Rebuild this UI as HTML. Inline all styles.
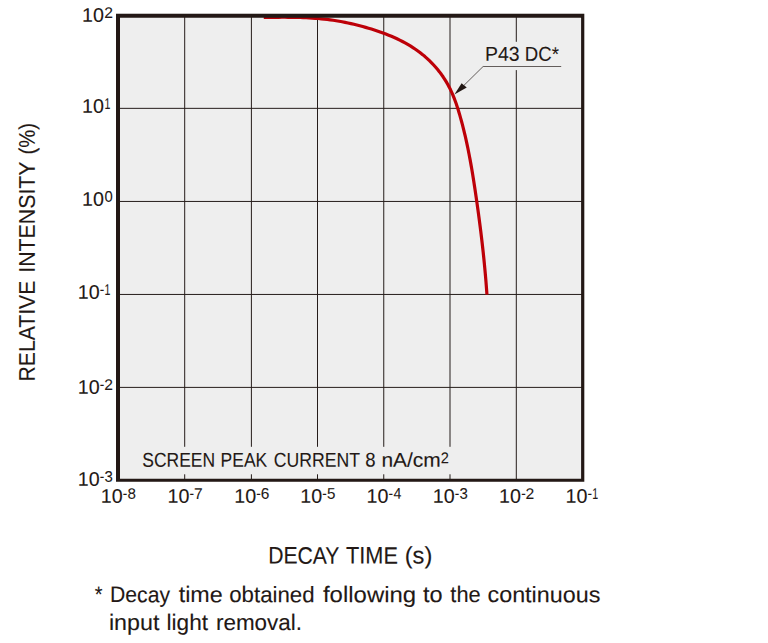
<!DOCTYPE html>
<html lang="en">
<head>
<meta charset="utf-8">
<title>P43 decay characteristics</title>
<style>
html,body{margin:0;padding:0;background:#ffffff;}
body{width:768px;height:643px;overflow:hidden;font-family:"Liberation Sans",Arial,Helvetica,sans-serif;}
svg{display:block;position:absolute;left:0;top:0;}
</style>
</head>
<body>
<svg width="768" height="643" viewBox="0 0 768 643">
<rect x="0" y="0" width="768" height="643" fill="#ffffff"/>
<rect x="116.0" y="13.7" width="468.30" height="468.00" fill="#eeeeee"/>
<g stroke="#251c1a" stroke-width="1.0" fill="none">
<line x1="119.0" y1="108.35" x2="582.1" y2="108.35"/>
<line x1="119.0" y1="201.45" x2="582.1" y2="201.45"/>
<line x1="119.0" y1="294.45" x2="582.1" y2="294.45"/>
<line x1="119.0" y1="387.4" x2="582.1" y2="387.4"/>
<line x1="184.7" y1="16.65" x2="184.7" y2="446.8"/>
<line x1="184.7" y1="474.3" x2="184.7" y2="479.85"/>
<line x1="251.4" y1="16.65" x2="251.4" y2="446.8"/>
<line x1="251.4" y1="474.3" x2="251.4" y2="479.85"/>
<line x1="317.5" y1="16.65" x2="317.5" y2="446.8"/>
<line x1="317.5" y1="474.3" x2="317.5" y2="479.85"/>
<line x1="383.75" y1="16.65" x2="383.75" y2="446.8"/>
<line x1="383.75" y1="474.3" x2="383.75" y2="479.85"/>
<line x1="450.0" y1="16.65" x2="450.0" y2="446.8"/>
<line x1="450.0" y1="474.3" x2="450.0" y2="479.85"/>
<line x1="516.3" y1="16.65" x2="516.3" y2="41.8"/>
<line x1="516.3" y1="70.1" x2="516.3" y2="479.85"/>
</g>
<path d="M263.75 17.46L266.76 17.42L269.78 17.38L272.80 17.34L275.83 17.31L278.86 17.29L281.89 17.27L284.93 17.27L287.96 17.28L291.00 17.31L294.03 17.35L297.06 17.41L300.10 17.50L303.13 17.60L306.16 17.73L309.18 17.88L312.21 18.06L315.23 18.28L318.24 18.52L321.25 18.80L324.25 19.11L327.25 19.46L330.24 19.84L333.22 20.27L336.19 20.73L339.16 21.23L342.12 21.77L345.08 22.35L348.03 22.96L350.97 23.61L353.91 24.29L356.84 25.01L359.77 25.76L362.69 26.54L365.61 27.36L368.53 28.21L371.44 29.09L374.34 30.01L377.23 30.96L380.11 31.95L382.98 32.98L385.83 34.05L388.66 35.17L391.47 36.34L394.26 37.55L397.02 38.81L399.75 40.13L402.45 41.50L405.12 42.92L407.75 44.41L410.34 45.95L412.90 47.56L415.41 49.23L417.87 50.97L420.29 52.77L422.66 54.64L424.98 56.58L427.24 58.59L429.44 60.66L431.59 62.79L433.67 64.98L435.69 67.23L437.64 69.53L439.52 71.89L441.33 74.31L443.07 76.77L444.73 79.29L446.31 81.85L447.81 84.47L449.23 87.12L450.57 89.82L451.83 92.56L453.02 95.34L454.14 98.14L455.21 100.97L456.23 103.83L457.19 106.71L458.12 109.60L459.00 112.51L459.86 115.42L460.69 118.34L461.49 121.27L462.28 124.20L463.03 127.14L463.77 130.07L464.49 133.02L465.18 135.96L465.86 138.91L466.51 141.87L467.15 144.83L467.77 147.79L468.37 150.75L468.96 153.72L469.53 156.69L470.09 159.66L470.63 162.64L471.16 165.61L471.68 168.59L472.18 171.58L472.68 174.56L473.16 177.54L473.64 180.53L474.10 183.52L474.56 186.51L475.02 189.50L475.46 192.49L475.90 195.49L476.34 198.48L476.77 201.48L477.19 204.47L477.61 207.47L478.03 210.46L478.44 213.46L478.84 216.46L479.24 219.46L479.63 222.46L480.02 225.46L480.40 228.46L480.78 231.46L481.14 234.46L481.50 237.47L481.86 240.47L482.21 243.48L482.55 246.48L482.88 249.49L483.21 252.50L483.53 255.51L483.84 258.52L484.14 261.53L484.44 264.54L484.73 267.55L485.01 270.56L485.28 273.58L485.55 276.59L485.80 279.61L486.05 282.63L486.28 285.64L486.51 288.66L486.73 291.68L486.94 294.70" fill="none" stroke="#bd0008" stroke-width="3.2" stroke-linecap="butt" stroke-linejoin="round"/>
<path fill="#231815" fill-rule="evenodd" d="M116.0 13.7H584.3V481.7H116.0Z M120.0 17.65V478.85H581.1V17.65Z"/>
<path d="M561.2 66.5H483.1L463.5 85.8" fill="none" stroke="#3f3735" stroke-width="0.8"/>
<path d="M454.4 94.6L461.6 83.2L466.75 87.6Z" fill="#231815"/>
<g font-family="'Liberation Sans', Arial, Helvetica, sans-serif" font-size="20" fill="#231815" stroke="#231815" stroke-width="0.1" stroke-linejoin="round" text-rendering="geometricPrecision">
<text transform="translate(82.02 21.70) rotate(0.06) scale(0.9839 0.9859)">10</text>
<text transform="translate(104.22 17.90) rotate(0.06) scale(0.7826 0.7729)">2</text>
<text transform="translate(82.02 112.70) rotate(0.06) scale(0.9839 0.9859)">10</text>
<text transform="translate(104.51 108.90) rotate(0.06) scale(0.5287 0.7841)">1</text>
<text transform="translate(82.02 205.70) rotate(0.06) scale(0.9839 0.9859)">10</text>
<text transform="translate(104.48 201.75) rotate(0.06) scale(0.7423 0.7620)">0</text>
<text transform="translate(77.72 298.70) rotate(0.06) scale(0.9839 0.9859)">10</text>
<text transform="translate(99.76 294.55) rotate(0.06) scale(0.6800 0.7786)">-</text>
<text transform="translate(104.51 294.90) rotate(0.06) scale(0.5287 0.7841)">1</text>
<text transform="translate(77.72 393.70) rotate(0.06) scale(0.9839 0.9859)">10</text>
<text transform="translate(99.76 389.55) rotate(0.06) scale(0.6800 0.7786)">-</text>
<text transform="translate(104.22 389.90) rotate(0.06) scale(0.7826 0.7729)">2</text>
<text transform="translate(77.72 485.70) rotate(0.06) scale(0.9839 0.9859)">10</text>
<text transform="translate(99.76 481.55) rotate(0.06) scale(0.6800 0.7786)">-</text>
<text transform="translate(104.47 481.75) rotate(0.06) scale(0.7500 0.7620)">3</text>
<text transform="translate(100.82 502.70) rotate(0.06) scale(0.9839 0.9859)">10</text>
<text transform="translate(122.86 498.55) rotate(0.06) scale(0.6800 0.7786)">-</text>
<text transform="translate(127.49 498.75) rotate(0.06) scale(0.7579 0.7566)">8</text>
<text transform="translate(167.52 502.70) rotate(0.06) scale(0.9839 0.9859)">10</text>
<text transform="translate(189.56 498.55) rotate(0.06) scale(0.6800 0.7786)">-</text>
<text transform="translate(194.02 498.90) rotate(0.06) scale(0.7826 0.7841)">7</text>
<text transform="translate(234.22 502.70) rotate(0.06) scale(0.9839 0.9859)">10</text>
<text transform="translate(256.26 498.55) rotate(0.06) scale(0.6800 0.7786)">-</text>
<text transform="translate(260.73 498.75) rotate(0.06) scale(0.7742 0.7620)">6</text>
<text transform="translate(300.32 502.70) rotate(0.06) scale(0.9839 0.9859)">10</text>
<text transform="translate(322.36 498.55) rotate(0.06) scale(0.6800 0.7786)">-</text>
<text transform="translate(326.99 498.75) rotate(0.06) scale(0.7579 0.7729)">5</text>
<text transform="translate(366.57 502.70) rotate(0.06) scale(0.9839 0.9859)">10</text>
<text transform="translate(388.61 498.55) rotate(0.06) scale(0.6800 0.7786)">-</text>
<text transform="translate(393.57 498.82) rotate(0.06) scale(0.7059 0.7784)">4</text>
<text transform="translate(432.82 502.70) rotate(0.06) scale(0.9839 0.9859)">10</text>
<text transform="translate(454.86 498.55) rotate(0.06) scale(0.6800 0.7786)">-</text>
<text transform="translate(459.58 498.75) rotate(0.06) scale(0.7500 0.7620)">3</text>
<text transform="translate(499.12 502.70) rotate(0.06) scale(0.9839 0.9859)">10</text>
<text transform="translate(521.16 498.55) rotate(0.06) scale(0.6800 0.7786)">-</text>
<text transform="translate(525.62 498.90) rotate(0.06) scale(0.7826 0.7729)">2</text>
<text transform="translate(565.47 502.70) rotate(0.06) scale(0.9839 0.9859)">10</text>
<text transform="translate(587.51 498.55) rotate(0.06) scale(0.6800 0.7786)">-</text>
<text transform="translate(592.26 498.90) rotate(0.06) scale(0.5287 0.7841)">1</text>
<text transform="translate(142.31 466.70) rotate(0.06) scale(0.8739 1.0000)">SCREEN</text>
<text transform="translate(220.60 466.70) rotate(0.06) scale(0.8737 1.0000)">PEAK</text>
<text transform="translate(273.82 466.70) rotate(0.06) scale(0.8821 1.0000)">CURRENT</text>
<text transform="translate(365.36 466.50) rotate(0.06) scale(0.9263 0.9859)">8</text>
<text transform="translate(381.44 466.70) rotate(0.06) scale(1.0468 1.0000)">nA/cm</text>
<text transform="translate(440.67 463.30) rotate(0.06) scale(0.7283 0.7857)">2</text>
<text transform="translate(484.95 60.85) rotate(0.06) scale(0.9710 0.9964)">P43</text>
<text transform="translate(524.81 60.85) rotate(0.06) scale(0.9285 0.9964)">DC*</text>
<text transform="translate(268.21 563.60) rotate(0.06) scale(1.0569 1.1957)">DECAY</text>
<text transform="translate(346.07 563.60) rotate(0.06) scale(1.0852 1.1957)">TIME</text>
<text transform="translate(404.68 563.60) rotate(0.06) scale(1.1832 1.1957)">(s)</text>
<text transform="translate(34.70 381.50) rotate(-89.94) scale(1.0596 1.1304)">RELATIVE</text>
<text transform="translate(34.70 272.72) rotate(-89.94) scale(1.0654 1.1304)">INTENSITY</text>
<text transform="translate(34.70 154.62) rotate(-89.94) scale(1.0159 1.1304)">(%)</text>
<text transform="translate(94.80 602.10) rotate(0.06) scale(1.0000 1.1159)">*</text>
<text transform="translate(110.01 602.10) rotate(0.06) scale(1.0583 1.1159)">Decay</text>
<text transform="translate(178.70 602.10) rotate(0.06) scale(1.1661 1.1159)">time</text>
<text transform="translate(229.21 602.10) rotate(0.06) scale(1.1122 1.1159)">obtained</text>
<text transform="translate(322.96 602.10) rotate(0.06) scale(1.1977 1.1159)">following</text>
<text transform="translate(422.95 602.10) rotate(0.06) scale(1.1763 1.1159)">to</text>
<text transform="translate(450.37 602.10) rotate(0.06) scale(1.0907 1.1159)">the</text>
<text transform="translate(487.47 602.10) rotate(0.06) scale(1.1676 1.1159)">continuous</text>
<text transform="translate(108.89 630.00) rotate(0.06) scale(1.1639 1.1159)">input</text>
<text transform="translate(166.53 630.00) rotate(0.06) scale(1.1321 1.1159)">light</text>
<text transform="translate(215.94 630.00) rotate(0.06) scale(1.1231 1.1159)">removal.</text>
</g>
</svg>
</body>
</html>
